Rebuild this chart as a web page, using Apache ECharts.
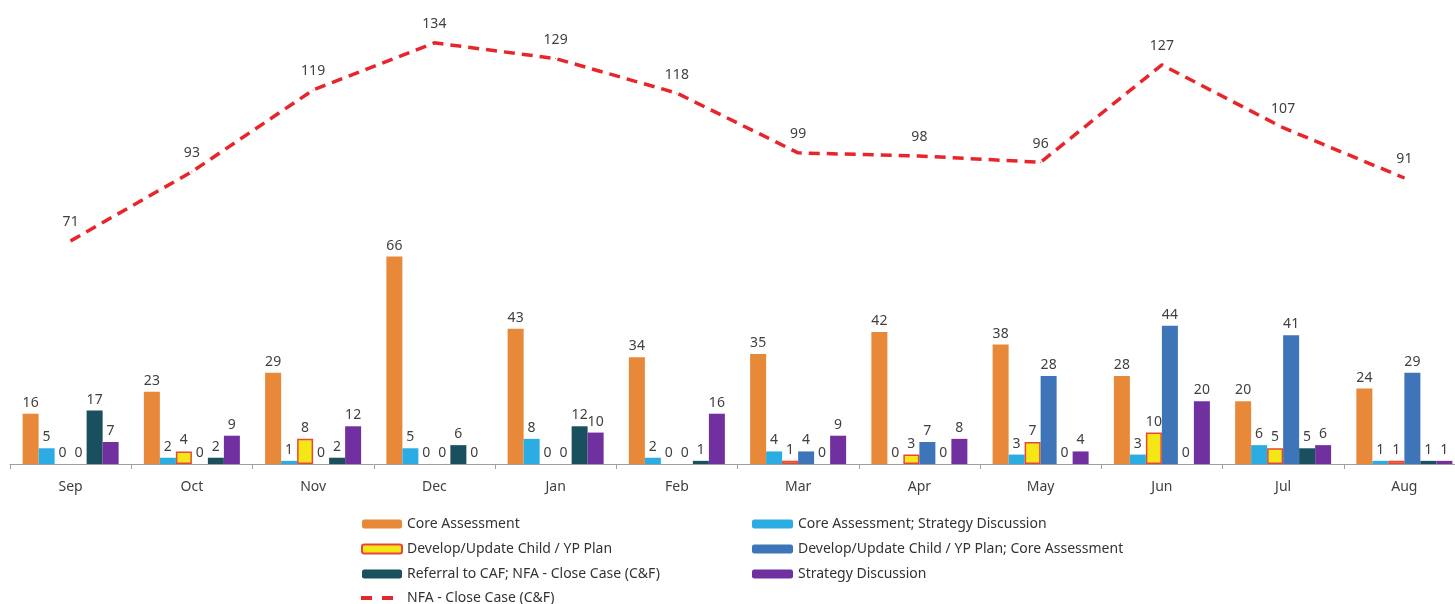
<!DOCTYPE html>
<html>
<head>
<meta charset="utf-8">
<script src="https://cdn.jsdelivr.net/npm/echarts@6/dist/echarts.min.js"></script>
<style>html,body{margin:0;padding:0;background:#fff;overflow:hidden;width:1455px;height:604px}#c{width:1480px;height:604px}</style>
</head>
<body>
<div id="c"></div>
<script>
var months = ['Sep','Oct','Nov','Dec','Jan','Feb','Mar','Apr','May','Jun','Jul','Aug'];
var coreAssessment = [16,23,29,66,43,34,35,42,38,28,20,24];
var coreStrategy = [5,2,1,5,8,2,4,0,3,3,6,1];
var developPlan = [0,4,8,0,0,0,1,3,7,10,5,1];
var developCore = [0,0,0,0,0,0,4,7,28,44,41,29];
var referralCAF = [17,2,2,6,12,1,0,0,0,0,5,1];
var strategyDiscussion = [7,9,12,0,10,16,9,8,4,20,6,1];
var nfaClose = [71,93,119,134,129,118,99,98,96,127,107,91];

var FONT = "'Noto Sans',sans-serif";
var lbl = {show:true, position:'top', distance:4, color:'#404040', fontSize:14, fontFamily:FONT};

function bar(name, data, color, border){
  return {
    name:name, type:'bar', barWidth:16, barGap:'0%',
    data:data.map(function(v){
      return v === 0 ? {value:v, itemStyle:{borderWidth:0}} : v;
    }),
    itemStyle:{color:color, borderColor:border||color, borderWidth:border?1.5:0},
    label:lbl
  };
}

var legText = {color:'#333', fontSize:14, fontFamily:FONT, lineHeight:18};
var chart = echarts.init(document.getElementById('c'));
chart.setOption({
  animation:false,
  textStyle:{fontFamily:FONT},
  grid:{left:10, right:15, top:24, bottom:140},
  xAxis:{type:'category', data:months,
     axisLine:{lineStyle:{color:'#a0a0a0'}},
     axisTick:{show:true, length:5, lineStyle:{color:'#a0a0a0'}},
     axisLabel:{show:true, color:'#404040', fontSize:14, margin:16, fontFamily:FONT}},
  yAxis:{type:'value', min:0, max:140, show:false, splitLine:{show:false}},
  legend:[
    {orient:'vertical', left:361, top:515, padding:0, itemWidth:40, itemHeight:9, itemGap:7,
     textStyle:legText,
     data:['Core Assessment','Develop/Update Child / YP Plan','Referral to CAF; NFA - Close Case (C&F)']},
    {orient:'vertical', left:361, top:589, padding:0, itemWidth:32, itemHeight:4, itemGap:7,
     textStyle:{color:'#333', fontSize:14, fontFamily:FONT, lineHeight:18, padding:[0,0,0,9]},
     data:[{name:'NFA - Close Case (C&F)', icon:'path://M0,0h11v4H0z M21,0h11v4h-11z'}]},
    {orient:'vertical', left:752, top:515, padding:0, itemWidth:41, itemHeight:9, itemGap:7,
     textStyle:legText,
     data:['Core Assessment; Strategy Discussion','Develop/Update Child / YP Plan; Core Assessment','Strategy Discussion']}
  ],
  series:[
    bar('Core Assessment', coreAssessment, '#E8893A'),
    bar('Core Assessment; Strategy Discussion', coreStrategy, '#2BACE2'),
    bar('Develop/Update Child / YP Plan', developPlan, '#F5E616', '#E8463A'),
    bar('Develop/Update Child / YP Plan; Core Assessment', developCore, '#3E74B8'),
    bar('Referral to CAF; NFA - Close Case (C&F)', referralCAF, '#1A4F5E'),
    bar('Strategy Discussion', strategyDiscussion, '#7030A0'),
    {name:'NFA - Close Case (C&F)', type:'line', data:nfaClose, symbol:'circle', symbolSize:1, showSymbol:true,
     lineStyle:{color:'#E8252B', width:3.5, type:[11,7]},
     itemStyle:{color:'#E8252B'},
     label:{show:true, position:'top', distance:11, color:'#404040', fontSize:14, fontFamily:FONT}}
  ]
});
</script>
</body>
</html>
